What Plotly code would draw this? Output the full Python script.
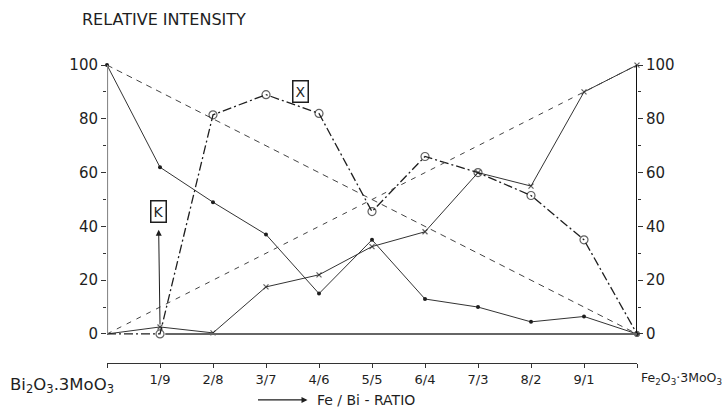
import plotly.graph_objects as go

# ---- data ----
x_pos = [0, 1, 2, 3, 4, 5, 6, 7, 8, 9, 10]
label_pos = [1, 2, 3, 4, 5, 6, 7, 8, 9]
tick_labels = ["1/9", "2/8", "3/7", "4/6", "5/5", "6/4", "7/3", "8/2", "9/1"]
bi_line_x = [0, 10]
bi_line_y = [100, 0]
fe_line_x = [0, 10]
fe_line_y = [0, 100]
bimo_y = [100, 62, 49, 37, 15, 35, 13, 10, 4.5, 6.5, 0]     # solid, dots
femo_y = [0, 2.6, 0.4, 17.5, 22, 32.5, 38, 60, 55, 90, 100]  # solid, x markers
x_phase_y = [0, 0, 81.5, 89, 82, 45.5, 66, 60, 51.5, 35, 0]  # dash-dot, circles
y_ticks = [0, 20, 40, 60, 80, 100]
y_minor = [10, 30, 50, 70, 90]
Y_RANGE = [-10.8, 105.6]

FONT = "DejaVu Sans"
INK = "#1e1e1e"

fig = go.Figure()

fig.add_trace(go.Scatter(x=bi_line_x, y=bi_line_y, mode="lines",
                         line=dict(color="#444", width=1, dash="6px,5px"),
                         cliponaxis=False, showlegend=False))
fig.add_trace(go.Scatter(x=fe_line_x, y=fe_line_y, mode="lines", yaxis="y2",
                         line=dict(color="#444", width=1, dash="5px,6px"),
                         cliponaxis=False, showlegend=False))
fig.add_trace(go.Scatter(x=x_pos, y=bimo_y, mode="lines+markers",
                         line=dict(color="#333", width=1),
                         marker=dict(symbol="circle", size=4, color=INK),
                         cliponaxis=False, showlegend=False))
fig.add_trace(go.Scatter(x=x_pos, y=femo_y, mode="lines+markers",
                         line=dict(color="#333", width=1),
                         marker=dict(symbol="x-thin", size=[0] + [5] * 10, color=INK,
                                     line=dict(color=INK, width=1.2)),
                         cliponaxis=False, showlegend=False))
fig.add_trace(go.Scatter(x=x_pos, y=x_phase_y, mode="lines+markers",
                         line=dict(color=INK, width=1.3, dash="9px,3px,2px,3px"),
                         marker=dict(symbol="circle-open", size=[0] + [8] * 9 + [5], color=INK,
                                     line=dict(color=INK, width=1.2)),
                         cliponaxis=False, showlegend=False))

# axis lines and baseline
fig.add_shape(type="line", xref="x", yref="y", x0=0, x1=0, y0=0, y1=100,
              line=dict(color="#8a8a8a", width=2.2))
fig.add_shape(type="line", xref="x", yref="y", x0=10, x1=10, y0=0, y1=100,
              line=dict(color="#111", width=2))
fig.add_shape(type="line", xref="x", yref="y", x0=1.1, x1=10, y0=0, y1=0,
              line=dict(color="#666", width=2))

fig.update_layout(
    width=723, height=407,
    margin=dict(l=107, r=86, t=50, b=44),
    paper_bgcolor="white", plot_bgcolor="white",
    font=dict(family=FONT, color=INK, size=13),
    xaxis=dict(range=[0, 10], tickvals=label_pos, ticktext=tick_labels,
               showgrid=False, zeroline=False, showline=True,
               linecolor="#333", linewidth=1.2, ticks="outside", ticklen=4,
               tickcolor="#333", tickfont=dict(size=13, family=FONT),
               minor=dict(tickvals=[0, 10], ticks="outside", ticklen=4,
                          tickcolor="#333")),
    yaxis=dict(range=Y_RANGE, tickvals=y_ticks, showgrid=False,
               zeroline=False, showline=False, ticks="outside", ticklen=5,
               tickcolor="#333", tickfont=dict(size=15, family=FONT),
               minor=dict(tickvals=y_minor, ticks="outside", ticklen=3,
                          tickcolor="#333")),
    yaxis2=dict(range=Y_RANGE, tickvals=y_ticks, overlaying="y",
                side="right", showgrid=False, zeroline=False, showline=False,
                ticks="outside", ticklen=5, tickcolor="#333",
                tickfont=dict(size=15, family=FONT),
                minor=dict(tickvals=y_minor, ticks="outside", ticklen=3,
                           tickcolor="#333")),
)

annotations = [
    dict(text="RELATIVE INTENSITY", xref="paper", yref="paper",
         x=-0.051, y=1.096, xanchor="left", yanchor="middle",
         showarrow=False, font=dict(size=16, family=FONT)),
    dict(text="Bi<sub>2</sub>O<sub>3</sub>.3MoO<sub>3</sub>", xref="paper", yref="paper",
         x=-0.186, y=-0.072, xanchor="left", yanchor="middle",
         showarrow=False, font=dict(size=16.5, family=FONT)),
    dict(text="Fe<sub>2</sub>O<sub>3</sub>·3MoO<sub>3</sub>", xref="paper", yref="paper",
         x=1.003, y=-0.05, xanchor="left", yanchor="middle",
         showarrow=False, font=dict(size=12.5, family=FONT)),
    # Fe/Bi ratio label with arrow pointing at it
    dict(text="Fe / Bi - RATIO", xref="paper", yref="paper",
         x=(258 - 107) / 530, y=-0.118, ax=108, ay=0,
         showarrow=True, arrowside="start",
         arrowwidth=1.2, arrowcolor=INK,
         startarrowhead=2, startarrowsize=1, startstandoff=8,
         font=dict(size=14, family=FONT)),
    # K label with arrow pointing up to it
    dict(text="K", xref="x", yref="y", x=1, y=3.5, axref="x", ayref="y",
         ax=0.97, ay=45.7, showarrow=True, arrowside="start",
         startarrowhead=2, startarrowsize=1.2, arrowwidth=1, arrowcolor=INK,
         startstandoff=8,
         bordercolor=INK, borderwidth=1.5, borderpad=2,
         font=dict(size=14, family=FONT)),
    dict(text="X", xref="x", yref="y", x=3.66, y=90.3, showarrow=False,
         bordercolor=INK, borderwidth=1.5, borderpad=2,
         font=dict(size=14, family=FONT)),
]
fig.update_layout(annotations=annotations)

fig.write_html("out.html")
